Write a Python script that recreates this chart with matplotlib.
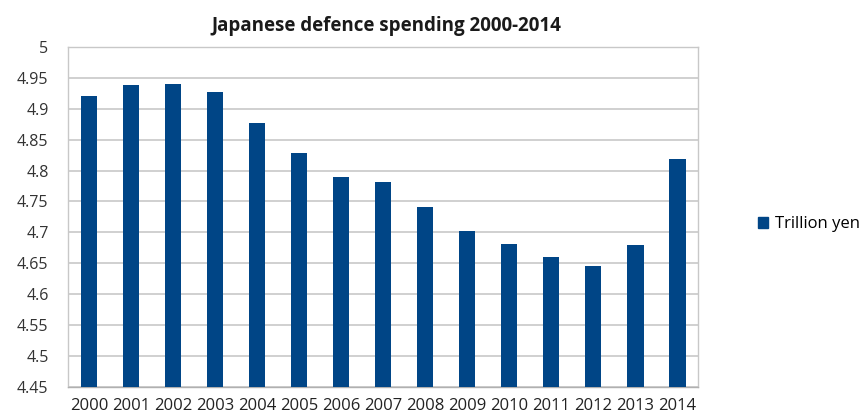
import matplotlib.pyplot as plt
from matplotlib.patches import Patch

# ── Data ───────────────────────────────────────────────
years = [str(y) for y in range(2000, 2015)]
trillion_yen = [4.921, 4.938, 4.940, 4.927, 4.877, 4.829, 4.789, 4.781,
                4.741, 4.702, 4.681, 4.661, 4.645, 4.679, 4.818]
yticks = [4.45, 4.5, 4.55, 4.6, 4.65, 4.7, 4.75, 4.8, 4.85, 4.9, 4.95, 5]
ytick_labels = ["4.45", "4.5", "4.55", "4.6", "4.65", "4.7", "4.75",
                "4.8", "4.85", "4.9", "4.95", "5"]

bar_color = "#004586"
grid_color = "#c8c8c8"

plt.rcParams['font.family'] = ['Open Sans', 'DejaVu Sans']

fig = plt.figure(figsize=(8.64, 4.15), dpi=100)
ax = fig.add_axes([0.0787, 0.0675, 0.7293, 0.8195])

x = range(len(years))
ax.bar(x, trillion_yen, width=0.4, color=bar_color, zorder=3)

ax.set_ylim(4.45, 5)
ax.set_xlim(-0.5, len(years) - 0.5)
ax.set_yticks(yticks)
ax.set_yticklabels(ytick_labels, fontsize=11.5, color="#333333")
ax.set_xticks(list(x))
ax.set_xticklabels(years, fontsize=12, color="#222222")
ax.tick_params(axis="both", length=0)
ax.tick_params(axis="y", pad=14)
ax.tick_params(axis="x", pad=8)

ax.yaxis.grid(True, color=grid_color, linewidth=1.2, zorder=0)
for side in ["left", "right", "top", "bottom"]:
    ax.spines[side].set_color(grid_color)
    ax.spines[side].set_linewidth(1.0)
ax.spines["bottom"].set_color("#b0b0b0")

fig.text(0.447, 0.937, "Japanese defence spending 2000-2014",
         ha="center", va="center", fontsize=13.5, fontweight="bold", color="#1a1a1a")

fig.legend(handles=[Patch(color=bar_color, label="Trillion yen")],
           loc="center left", bbox_to_anchor=(0.86, 0.46), frameon=False,
           fontsize=12, handlelength=0.6, handleheight=0.6, handletextpad=0.4)

fig.savefig("out.png", dpi=100)
plt.close(fig)
